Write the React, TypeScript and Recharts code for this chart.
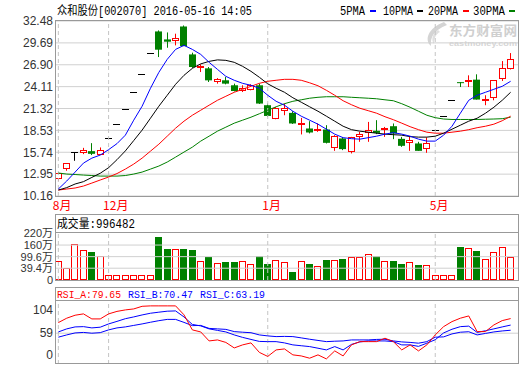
import { ComposedChart, Bar, Line, XAxis, YAxis, CartesianGrid, ReferenceLine } from 'recharts';

// daily bars, Aug 2015 .. 2016-05-16 (long trading halts in between)
const MONTH_TICKS = [0, 6, 25, 45];
const MONTH_LABELS = ['8月', '12月', '1月', '5月'];

const OPEN = [
  12.28, 13.59, 15.72, 15.67, 15.88, 15.41, 17.61, 19.37, 21.31, 23.44,
  25.78, 28.36, 31.15, 30.13, 29.91, 31.78, 28.22, 26.44, 26.44, 24.70,
  24.92, 24.28, 23.55, 23.73, 24.28, 21.74, 20.04, 21.01, 20.76, 19.45,
  18.77, 18.60, 18.64, 16.23, 17.50, 15.72, 17.70, 18.21, 18.47, 18.66,
  19.06, 17.45, 16.94, 16.86, 16.10, 18.55, 20.40, 22.44, 24.68, 24.70,
  25.00, 22.46, 22.72, 25.13, 26.40,
];
const HIGH = [
  13.10, 14.36, 15.72, 16.30, 16.90, 16.35, 17.61, 19.37, 21.31, 23.44,
  25.78, 28.36, 31.28, 31.02, 30.86, 31.91, 28.44, 26.95, 26.61, 25.20,
  25.33, 24.49, 24.28, 24.41, 24.49, 21.95, 21.50, 21.95, 20.97, 20.12,
  19.70, 19.41, 19.19, 17.92, 17.67, 17.70, 18.34, 19.61, 19.83, 18.97,
  19.41, 17.70, 17.70, 17.07, 17.63, 18.55, 20.40, 22.44, 24.68, 25.55,
  25.68, 23.01, 24.95, 27.37, 28.39,
];
const LOW = [
  12.11, 13.38, 14.65, 15.50, 15.38, 15.41, 17.61, 19.37, 21.31, 23.44,
  25.78, 28.36, 27.88, 29.07, 29.37, 29.28, 26.50, 25.97, 24.70, 24.49,
  24.40, 23.50, 23.42, 23.64, 21.90, 20.25, 19.95, 20.46, 19.35, 18.01,
  18.14, 18.34, 16.86, 15.92, 16.01, 15.59, 17.07, 17.07, 18.05, 17.70,
  17.41, 16.43, 15.92, 15.92, 15.67, 18.55, 20.40, 22.44, 24.06, 24.06,
  22.46, 21.74, 22.37, 24.83, 26.30,
];
const CLOSE = [
  13.05, 14.32, 15.72, 16.01, 15.54, 16.01, 17.61, 19.37, 21.31, 23.44,
  25.78, 28.36, 28.82, 29.84, 30.26, 29.28, 26.61, 26.73, 24.91, 25.13,
  24.49, 23.55, 23.99, 24.28, 21.95, 20.37, 21.44, 21.32, 19.41, 19.52,
  18.26, 18.68, 16.94, 17.79, 16.14, 17.63, 18.05, 18.56, 18.21, 18.77,
  18.13, 16.56, 17.28, 15.92, 16.86, 18.55, 20.40, 22.44, 24.64, 24.92,
  22.46, 22.59, 24.92, 26.53, 27.68,
];

// 万股
const VOLUME = [
  77, 39, 164, 134, 122, 103, 4, 4, 4, 4,
  4, 4, 203, 139, 139, 139, 134, 77, 99, 66,
  72, 72, 77, 61, 103, 61, 80, 70, 20, 75,
  61, 51, 82, 82, 87, 96, 96, 112, 103, 77,
  77, 61, 70, 56, 54, 4, 4, 4, 150, 143,
  129, 87, 122, 148, 99.6,
];

const MA5 = [
  11.05, 12.07, 13.21, 14.36, 14.99, 15.38, 16.07, 16.84, 17.92, 19.83,
  21.61, 23.90, 25.93, 27.59, 28.86, 29.37, 28.86, 28.22, 27.21, 26.31,
  25.42, 24.92, 24.53, 24.28, 23.90, 23.01, 22.24, 21.74, 20.97, 20.34,
  19.83, 19.32, 18.68, 18.05, 17.60, 17.47, 17.41, 17.60, 17.79, 18.05,
  18.24, 18.05, 17.79, 17.41, 17.16, 17.16, 17.92, 19.06, 20.72, 22.37,
  23.01, 23.39, 23.77, 24.15, 24.79,
];
const MA10 = [
  10.92, 11.23, 11.69, 11.99, 12.53, 13.06, 13.77, 14.79, 15.91, 17.23,
  18.56, 20.08, 21.61, 23.01, 24.41, 25.55, 26.44, 27.01, 27.33, 27.52,
  27.46, 27.21, 26.70, 26.06, 25.30, 24.47, 23.90, 23.39, 22.69, 22.12,
  21.54, 20.97, 20.34, 19.70, 19.06, 18.62, 18.43, 18.30, 18.17, 18.05,
  17.98, 17.92, 17.73, 17.67, 17.67, 17.79, 18.17, 18.68, 19.19, 19.70,
  20.08, 20.72, 21.48, 22.37, 23.39,
];
const MA20 = [
  10.92, 11.05, 11.18, 11.43, 11.81, 12.20, 12.58, 13.02, 13.59, 14.23,
  14.99, 15.88, 16.77, 17.79, 18.81, 19.70, 20.46, 21.10, 21.74, 22.37,
  22.88, 23.39, 23.77, 24.15, 24.53, 24.79, 24.92, 25.04, 25.04, 24.92,
  24.60, 24.22, 23.64, 23.01, 22.31, 21.80, 21.35, 21.04, 20.72, 20.27,
  19.89, 19.45, 19.00, 18.62, 18.30, 18.17, 18.17, 18.30, 18.43, 18.62,
  18.87, 19.06, 19.32, 19.76, 20.34,
];
const MA30 = [
  13.09, 12.96, 12.90, 12.83, 12.77, 12.70, 12.70, 12.70, 12.77, 12.96,
  13.21, 13.59, 13.98, 14.49, 15.12, 15.76, 16.39, 17.16, 17.79, 18.43,
  18.94, 19.45, 19.83, 20.21, 20.65, 21.10, 21.54, 21.93, 22.24, 22.43,
  22.63, 22.75, 22.82, 22.82, 22.82, 22.75, 22.69, 22.63, 22.56, 22.43,
  22.31, 21.93, 21.48, 20.97, 20.46, 20.15, 19.98, 19.92, 19.92, 19.92,
  19.92, 19.95, 19.98, 20.02, 20.21,
];

const RSI_A = [
  74.0, 80.2, 84.4, 86.3, 79.2, 79.2, 86.3, 89.8, 91.9, 93.3,
  97.0, 97.6, 97.6, 97.6, 97.6, 85.0, 63.7, 60.8, 48.1, 49.5,
  46.0, 38.2, 42.5, 45.3, 31.9, 26.2, 35.4, 36.8, 28.4, 26.9,
  23.7, 28.4, 22.7, 34.0, 26.9, 42.5, 47.1, 47.1, 47.1, 51.9,
  47.1, 35.4, 42.5, 34.0, 42.5, 56.6, 68.3, 75.4, 80.2, 83.4,
  61.3, 61.3, 70.7, 76.8, 79.65,
];
const RSI_B = [
  60.8, 65.1, 67.9, 68.3, 66.5, 67.5, 72.1, 75.7, 79.5, 82.0,
  84.8, 87.2, 88.7, 90.1, 90.5, 82.0, 71.4, 69.3, 65.1, 63.0,
  60.8, 56.6, 53.1, 50.2, 47.4, 47.1, 47.1, 45.3, 42.5, 41.3,
  40.1, 37.8, 35.4, 40.1, 35.4, 43.2, 46.7, 48.1, 48.1, 48.1,
  47.1, 42.5, 42.5, 40.4, 44.9, 49.8, 59.4, 64.6, 68.3, 69.0,
  60.1, 62.5, 65.1, 67.9, 70.47,
];
const RSI_C = [
  53.4, 56.6, 59.4, 60.1, 59.0, 59.8, 63.7, 66.5, 67.9, 70.0,
  72.1, 74.5, 76.7, 78.5, 78.5, 74.3, 69.7, 70.0, 65.8, 65.1,
  64.4, 61.3, 60.4, 59.7, 56.6, 55.2, 54.2, 54.5, 54.2, 52.4,
  50.5, 48.8, 47.1, 47.7, 48.1, 49.5, 49.5, 49.5, 50.2, 50.5,
  48.1, 46.7, 46.0, 44.9, 47.1, 53.4, 53.8, 58.0, 60.4, 61.1,
  56.6, 58.7, 60.8, 62.2, 63.19,
];

const PRICE_TICKS = [10.16, 12.95, 15.74, 18.53, 21.32, 24.11, 26.9, 29.69, 32.48];
const VOL_TICKS = [39.4, 99.6, 160, 220];
const RSI_TICKS = [59, 104];

const X_DOMAIN = [-0.4, 55];
const VOL_MIN = -22;
const RSI_MIN = 15.5;

const RED = '#ff0000';
const GREEN = '#008000';
const BLUE = '#0000ff';
const GRID = '#d0d0d0';
const BORDER = '#999999';
const DASH = '#c4c4c4';
const SANS = '"Liberation Sans", Arial, "Noto Sans CJK SC", sans-serif';
const CJK = '"Noto Sans CJK SC", sans-serif';
const MONO = '"Liberation Mono", "Noto Sans CJK SC", monospace';

const data = OPEN.map((open, i) => ({
  i,
  open,
  high: HIGH[i],
  low: LOW[i],
  close: CLOSE[i],
  vol: VOLUME[i],
  ma5: MA5[i],
  ma10: MA10[i],
  ma20: MA20[i],
  ma30: MA30[i],
  rsiA: RSI_A[i],
  rsiB: RSI_B[i],
  rsiC: RSI_C[i],
}));

function Candle(props: any) {
  const { x, y, width, height, payload } = props;
  const { open, close, high, low } = payload;
  const top = Math.min(y, y + height);
  const h = Math.abs(height);
  const py = (v: number) => (high > low ? top + ((high - v) / (high - low)) * h : top);
  const c = Math.floor(x + width / 2);
  const yh = py(high);
  const yl = py(low);
  const yo = py(open);
  const yc = py(close);
  const bTop = Math.min(yo, yc);
  const bBot = Math.max(yo, yc);

  if (close === open) {
    const yy = Math.round(yc) + 0.5;
    return (
      <g>
        {high > low && <line x1={c + 0.5} x2={c + 0.5} y1={yh} y2={yl} stroke="#000" />}
        <line x1={c - 3} x2={c + 4} y1={yy} y2={yy} stroke="#000" />
      </g>
    );
  }
  if (close < open) {
    return (
      <g>
        <line x1={c + 0.5} x2={c + 0.5} y1={yh} y2={yl} stroke={GREEN} />
        <rect x={c - 3} y={bTop} width={7} height={Math.max(1, bBot - bTop)} fill={GREEN} />
      </g>
    );
  }
  const rt = Math.round(bTop);
  const rb = Math.round(bBot);
  return (
    <g>
      <line x1={c + 0.5} x2={c + 0.5} y1={yh} y2={rt} stroke={RED} />
      <line x1={c + 0.5} x2={c + 0.5} y1={rb} y2={yl} stroke={RED} />
      <rect x={c - 2.5} y={rt + 0.5} width={6} height={Math.max(1, rb - rt - 1)} fill="#fff" stroke={RED} />
    </g>
  );
}

function VolBar(props: any) {
  const { x, y, width, height, payload } = props;
  const top = Math.round(Math.min(y, y + height));
  const h = Math.round(Math.abs(height));
  const c = Math.floor(x + width / 2);
  if (payload.close < payload.open) {
    return <rect x={c - 3} y={top} width={7} height={h} fill={GREEN} />;
  }
  return <rect x={c - 2.5} y={top + 0.5} width={6} height={Math.max(1, h - 1)} fill="#fff" stroke={RED} />;
}

function SideTick(props: any) {
  const { x, y, payload, format, shift, size = 12 } = props;
  const v = payload.value;
  return (
    <text x={x} y={y + (shift ? shift(v) : 0)} dy="0.355em" textAnchor="end" fontSize={size} fill="#333" fontFamily={SANS}>
      {format(v)}
    </text>
  );
}

function MonthTick(props: any) {
  const { x, y, payload } = props;
  const label = MONTH_LABELS[MONTH_TICKS.indexOf(payload.value)];
  return (
    <text x={x - 5.5} y={y + 14} fontSize={12} fill={RED} fontFamily={CJK}>
      {label}
    </text>
  );
}

const monthLines = MONTH_TICKS.map(t => (
  <ReferenceLine key={t} x={t} stroke={DASH} strokeDasharray="4 3" />
));

const LEGEND = [
  { label: '5PMA', x: 340, w: 25, color: BLUE, dx: 370 },
  { label: '10PMA', x: 383, w: 30, color: '#000', dx: 417 },
  { label: '20PMA', x: 428, w: 30, color: RED, dx: 463 },
  { label: '30PMA', x: 473, w: 32, color: GREEN, dx: 509 },
];

export default function App() {
  return (
    <div style={{ position: 'absolute', left: 0, top: 0, width: 520, height: 365, background: '#fff', overflow: 'hidden' }}>
      <svg width={520} height={365} style={{ position: 'absolute', left: 0, top: 0 }}>
        <path d="M444 22 C428 28 424 40 431 46 C430 37 434 30 447 25 Z" fill="#d4d4d4" />
        <path d="M438 30 C432 34 431 40 434 44 C434 38 436 34 440 32 Z" fill="#e0e0e0" />
        <text x={449} y={35} fontSize={13} fontWeight="bold" fill="#cfcfcf" fontFamily={CJK} textLength={68} lengthAdjust="spacingAndGlyphs">
          东方财富网
        </text>
        <text x={449} y={46} fontSize={8} fontWeight="bold" fill="#d6d6d6" fontFamily={SANS} textLength={68} lengthAdjust="spacingAndGlyphs">
          eastmoney.com
        </text>
      </svg>

      <div style={{ position: 'absolute', left: 0, top: 0 }}>
        <ComposedChart width={520} height={214} data={data} margin={{ top: 21, right: 1, bottom: 0, left: 0 }}>
          <CartesianGrid vertical={false} stroke={GRID} />
          <XAxis
            dataKey="i"
            type="number"
            domain={X_DOMAIN}
            ticks={MONTH_TICKS}
            interval={0}
            axisLine={false}
            tickLine={false}
            tickSize={0}
            tickMargin={0}
            height={18}
            tick={MonthTick}
          />
          <YAxis
            type="number"
            domain={[PRICE_TICKS[0], PRICE_TICKS[PRICE_TICKS.length - 1]]}
            ticks={PRICE_TICKS}
            interval={0}
            width={55}
            axisLine={false}
            tickLine={false}
            tickSize={0}
            tickMargin={2}
            tick={(p: any) => <SideTick {...p} format={(v: number) => v.toFixed(2)} />}
          />
          {monthLines}
          <Bar dataKey={(d: any) => [d.low, d.high]} barSize={6} shape={Candle} isAnimationActive={false} />
          <Line dataKey="ma30" stroke={GREEN} strokeWidth={1} dot={false} type="linear" isAnimationActive={false} />
          <Line dataKey="ma20" stroke={RED} strokeWidth={1} dot={false} type="linear" isAnimationActive={false} />
          <Line dataKey="ma10" stroke="#000" strokeWidth={1} dot={false} type="linear" isAnimationActive={false} />
          <Line dataKey="ma5" stroke={BLUE} strokeWidth={1} dot={false} type="linear" isAnimationActive={false} />
        </ComposedChart>
      </div>

      <div style={{ position: 'absolute', left: 0, top: 222 }}>
        <ComposedChart width={520} height={65} data={data} margin={{ top: 10, right: 1, bottom: 7, left: 0 }}>
          <XAxis dataKey="i" type="number" domain={X_DOMAIN} hide />
          <YAxis
            type="number"
            domain={[VOL_MIN, 228]}
            ticks={[VOL_MIN, ...VOL_TICKS]}
            interval={0}
            width={55}
            axisLine={false}
            tickLine={false}
            tickSize={0}
            tickMargin={2}
            tick={(p: any) => (
              <SideTick {...p} size={11} format={(v: number) => (v === VOL_MIN ? '0' : `${v}万`)} />
            )}
          />
          {VOL_TICKS.slice(0, 3).map(t => (
            <ReferenceLine key={t} y={t} stroke={GRID} />
          ))}
          {monthLines}
          <Bar dataKey={(d: any) => [VOL_MIN, d.vol]} barSize={6} shape={VolBar} isAnimationActive={false} />
        </ComposedChart>
      </div>

      <div style={{ position: 'absolute', left: 0, top: 291 }}>
        <ComposedChart width={520} height={74} data={data} margin={{ top: 10, right: 1, bottom: 1, left: 0 }}>
          <XAxis dataKey="i" type="number" domain={X_DOMAIN} hide />
          <YAxis
            type="number"
            domain={[RSI_MIN, 104.5]}
            ticks={[RSI_MIN, ...RSI_TICKS]}
            interval={0}
            width={55}
            axisLine={false}
            tickLine={false}
            tickSize={0}
            tickMargin={2}
            tick={(p: any) => (
              <SideTick
                {...p}
                format={(v: number) => (v === RSI_MIN ? '0' : String(v))}
                shift={(v: number) => (v === RSI_MIN ? -9 : v === 104 ? 8.5 : 0)}
              />
            )}
          />
          <ReferenceLine y={59} stroke={GRID} />
          {monthLines}
          <Line dataKey="rsiC" stroke={BLUE} strokeWidth={1} dot={false} type="linear" isAnimationActive={false} />
          <Line dataKey="rsiB" stroke={BLUE} strokeWidth={1} dot={false} type="linear" isAnimationActive={false} />
          <Line dataKey="rsiA" stroke={RED} strokeWidth={1} dot={false} type="linear" isAnimationActive={false} />
        </ComposedChart>
      </div>

      <svg width={520} height={365} style={{ position: 'absolute', left: 0, top: 0, pointerEvents: 'none' }}>
        <text x={57} y={15} fontSize={12} fill="#000" fontFamily={MONO} textLength={195} lengthAdjust="spacingAndGlyphs">
          众和股份[002070] 2016-05-16 14:05
        </text>
        {LEGEND.map(l => (
          <g key={l.label}>
            <text x={l.x} y={15} fontSize={12} fill="#000" fontFamily={MONO} textLength={l.w} lengthAdjust="spacingAndGlyphs">
              {l.label}
            </text>
            <rect x={l.dx} y={10} width={6} height={2} fill={l.color} />
          </g>
        ))}

        <g fill="none" stroke={BORDER}>
          <rect x={55.5} y={20.5} width={463} height={176} />
          <rect x={55.5} y={214.5} width={463} height={18} />
          <rect x={55.5} y={232.5} width={463} height={48} />
          <rect x={55.5} y={287.5} width={463} height={13} />
          <rect x={55.5} y={300.5} width={463} height={63} />
        </g>

        <text x={57} y={228} fontSize={12} fill="#000" fontFamily={MONO} textLength={78} lengthAdjust="spacingAndGlyphs">
          成交量:996482
        </text>
        <text x={57} y={298} fontSize={11} fill={RED} fontFamily={MONO} textLength={64} lengthAdjust="spacingAndGlyphs">
          {`RSI_A:${RSI_A[RSI_A.length - 1].toFixed(2)}`}
        </text>
        <text x={128} y={298} fontSize={11} fill={BLUE} fontFamily={MONO} textLength={65} lengthAdjust="spacingAndGlyphs">
          {`RSI_B:${RSI_B[RSI_B.length - 1].toFixed(2)}`}
        </text>
        <text x={200} y={298} fontSize={11} fill={BLUE} fontFamily={MONO} textLength={65} lengthAdjust="spacingAndGlyphs">
          {`RSI_C:${RSI_C[RSI_C.length - 1].toFixed(2)}`}
        </text>
      </svg>
    </div>
  );
}
